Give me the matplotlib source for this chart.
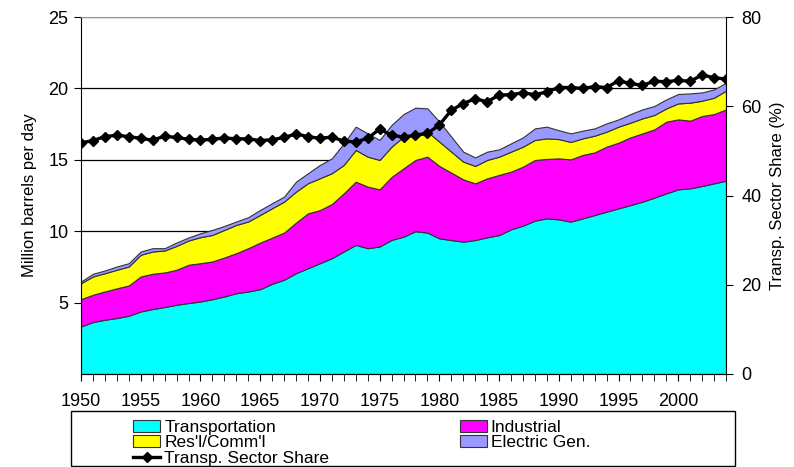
import numpy as np
import matplotlib
matplotlib.use("Agg")
import matplotlib.pyplot as plt
from matplotlib.patches import Rectangle

plt.rcParams['font.family'] = ['Liberation Sans', 'DejaVu Sans']

years = np.arange(1950, 2005)

transportation = [3.33, 3.64, 3.80, 3.92, 4.08, 4.38, 4.55, 4.69, 4.85, 4.97,
                  5.08, 5.24, 5.43, 5.66, 5.78, 5.94, 6.32, 6.60, 7.06, 7.41,
                  7.76, 8.11, 8.58, 9.04, 8.81, 8.93, 9.39, 9.62, 10.00, 9.90,
                  9.50, 9.38, 9.27, 9.38, 9.57, 9.73, 10.13, 10.39, 10.74, 10.90,
                  10.83, 10.67, 10.90, 11.13, 11.37, 11.60, 11.83, 12.07, 12.35, 12.65,
                  12.93, 13.00, 13.17, 13.35, 13.54]
industrial = [1.91, 1.91, 1.98, 2.08, 2.12, 2.45, 2.47, 2.42, 2.45, 2.68,
              2.68, 2.64, 2.73, 2.80, 3.03, 3.26, 3.23, 3.30, 3.54, 3.84,
              3.72, 3.79, 4.07, 4.43, 4.31, 4.00, 4.41, 4.78, 4.99, 5.32,
              5.07, 4.72, 4.36, 3.97, 4.13, 4.21, 4.04, 4.13, 4.25, 4.16,
              4.27, 4.36, 4.44, 4.39, 4.55, 4.60, 4.74, 4.78, 4.78, 5.02,
              4.90, 4.74, 4.90, 4.85, 4.99]
res_comm = [1.12, 1.28, 1.28, 1.30, 1.33, 1.52, 1.56, 1.54, 1.67, 1.70,
            1.82, 1.86, 1.93, 1.98, 1.87, 1.94, 2.06, 2.17, 2.17, 2.11,
            2.23, 2.16, 1.99, 2.22, 2.10, 2.06, 2.12, 2.22, 1.86, 1.75,
            1.70, 1.47, 1.24, 1.22, 1.29, 1.28, 1.40, 1.40, 1.40, 1.44,
            1.35, 1.22, 1.16, 1.17, 1.05, 1.12, 1.03, 1.05, 1.01, 0.93,
            1.12, 1.26, 1.07, 1.15, 1.31]
electric = [0.12, 0.19, 0.19, 0.23, 0.23, 0.23, 0.23, 0.16, 0.24, 0.21,
            0.28, 0.35, 0.28, 0.24, 0.30, 0.35, 0.35, 0.35, 0.70, 0.70,
            0.93, 1.04, 1.51, 1.63, 1.63, 1.40, 1.52, 1.58, 1.80, 1.63,
            1.40, 1.05, 0.70, 0.60, 0.58, 0.51, 0.58, 0.65, 0.81, 0.82,
            0.62, 0.60, 0.54, 0.51, 0.58, 0.51, 0.60, 0.63, 0.63, 0.63,
            0.66, 0.65, 0.58, 0.58, 0.56]
transp_share = [51.8, 52.3, 53.2, 53.5, 53.2, 52.8, 52.4, 53.3, 53.0, 52.6,
                52.4, 52.6, 52.9, 52.7, 52.7, 52.3, 52.5, 53.0, 53.8, 53.2,
                52.8, 53.1, 52.2, 52.0, 52.8, 54.9, 53.5, 53.1, 53.5, 53.9,
                55.8, 59.1, 60.6, 61.7, 61.0, 62.5, 62.6, 63.0, 62.6, 63.2,
                64.2, 64.2, 64.0, 64.4, 64.2, 65.7, 65.1, 64.7, 65.6, 65.5,
                65.8, 65.6, 67.0, 66.4, 66.1]

labels = ["Transportation", "Industrial", "Res'l/Comm'l", "Electric Gen."]
colors = ["#00FFFF", "#FF00FF", "#FFFF00", "#9999FF"]

fig = plt.figure(figsize=(7.94, 4.67), dpi=100)
ax = fig.add_axes([81/794, 1 - 374/467, 645/794, 357/467])

polys = ax.stackplot(years, transportation, industrial, res_comm, electric,
                     colors=colors, labels=labels, edgecolor="#333333",
                     linewidth=0.8)

ax.set_xlim(1950, 2004)
ax.set_ylim(0, 25)
ax.set_yticks([5, 10, 15, 20, 25])
ax.set_xticks(np.arange(1950, 2001, 5))
ax.set_xticks(years, minor=True)
ax.set_axisbelow(True)
ax.yaxis.grid(True, color="black", linewidth=0.9)
ax.tick_params(axis="y", labelsize=13, length=5, direction="out", pad=4)
ax.tick_params(axis="x", which="both", labelsize=13, length=5,
               direction="out", pad=9)
ax.set_ylabel("Million barrels per day", fontsize=12, labelpad=8)
ax.spines["top"].set_color("#999999")
ax.spines["right"].set_visible(False)

ax2 = ax.twinx()
line, = ax2.plot(years, transp_share, color="black", linewidth=2.4,
                 marker="D", markersize=5.5, label="Transp. Sector Share")
ax2.set_ylim(0, 80)
ax2.set_yticks([0, 20, 40, 60, 80])
ax2.tick_params(axis="y", labelsize=13, length=5, direction="out", pad=6)
ax2.set_ylabel("Transp. Sector Share (%)", fontsize=12, labelpad=6)
ax2.spines["top"].set_visible(False)
ax2.spines["left"].set_visible(False)

fig.patches.append(Rectangle((71/794, 1 - 466/467), 664/794, 55/467,
                             transform=fig.transFigure, fill=False,
                             edgecolor="black", linewidth=1))

handles = [polys[0], polys[2], line, polys[1], polys[3]]
names = [labels[0], labels[2], "Transp. Sector Share", labels[1], labels[3]]
fig.legend(handles, names, loc="upper left",
           bbox_to_anchor=(121/794, 1 - 408/467), ncol=2, frameon=False,
           fontsize=12.5, handlelength=1.55, handleheight=0.7,
           handletextpad=0.25, labelspacing=0.0, columnspacing=7.5,
           borderpad=0.2)

fig.savefig("out.png", dpi=100)
